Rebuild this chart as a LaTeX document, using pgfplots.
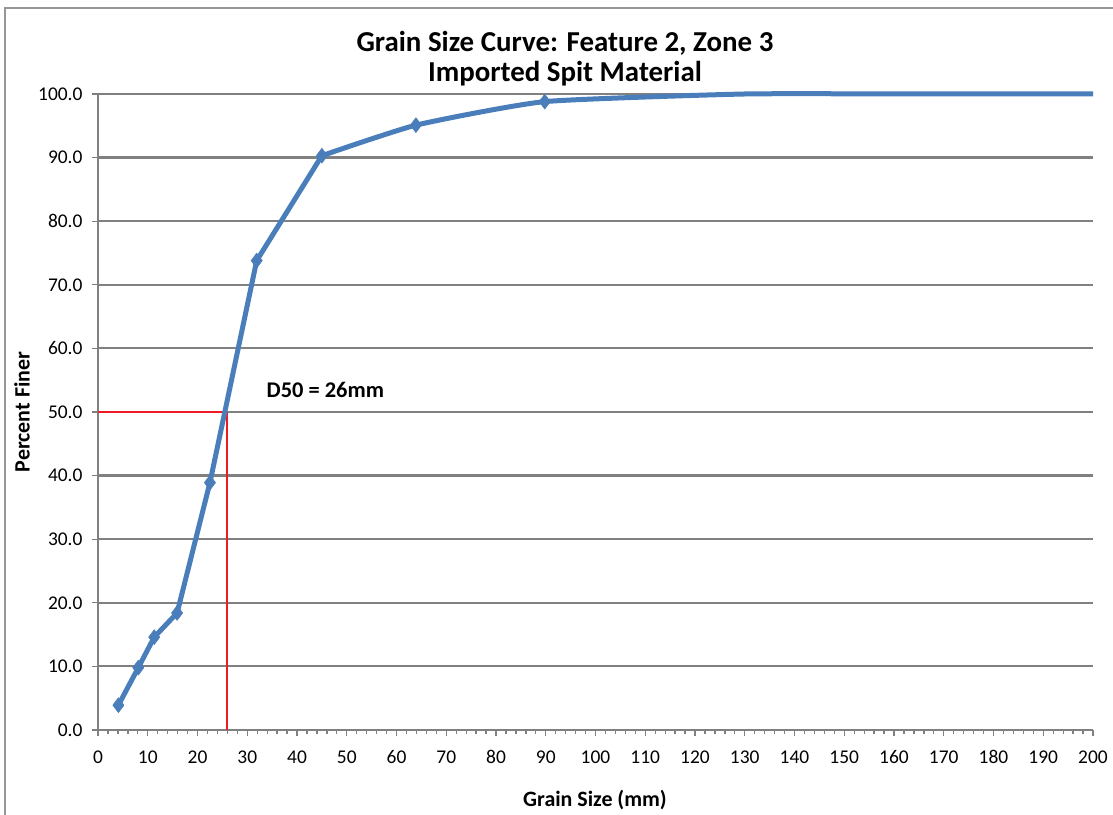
\documentclass[border=0pt]{standalone}
\usepackage{pgfplots}
\pgfplotsset{compat=1.18}
\usepackage{fontspec}
\setmainfont{Carlito}
\definecolor{lineblue}{RGB}{74,126,187}
\definecolor{gridgray}{RGB}{128,128,128}
\definecolor{framegray}{RGB}{150,150,150}
\definecolor{dred}{RGB}{237,28,36}
\begin{document}
\begin{tikzpicture}
\path[use as bounding box] (-98bp,-85bp) rectangle (1015bp,730bp);
\draw[framegray, line width=1.5bp] (-93bp,-90bp) -- (-93bp,722bp) -- (1020bp,722bp);
\begin{axis}[
  at={(0,0)}, anchor=south west,
  scale only axis, width=995bp, height=636bp,
  xmin=0, xmax=200, ymin=0, ymax=100,
  clip=false,
  axis x line=bottom, axis y line=left,
  axis line style={-, gridgray, line width=1.8bp},
  xtick={0,10,...,200}, minor x tick num=4,
  ytick={0,10,...,100},
  ymajorgrids, grid style={gridgray, line width=2.2bp},
  tick align=outside, major tick length=6bp, minor tick length=4bp,
  tick style={gridgray, line width=1.3bp},
  /pgf/number format/assume math mode=true,
  ticklabel style={font=\fontsize{19.5}{22}\selectfont},
  yticklabel style={/pgf/number format/fixed, /pgf/number format/fixed zerofill, /pgf/number format/precision=1, xshift=-6bp},
  xticklabel style={yshift=-11bp},
]
\addplot[dred, line width=2bp] coordinates {(0,50) (26,50)};
\addplot[dred, line width=2bp] coordinates {(26,50) (26,0)};
\addplot[lineblue, line width=5bp, line join=round,
  mark=diamond*, mark size=7.5bp,
  mark options={fill=lineblue, draw=lineblue, line width=0.5bp}] coordinates {
  (4.1,3.9) (8.1,9.8) (11.3,14.6) (15.9,18.4) (22.5,38.9) (31.9,73.8) (45.0,90.3)};
\addplot[lineblue, line width=5bp, smooth, tension=0.3, line join=round,
  mark=diamond*, mark size=7.5bp,
  mark options={fill=lineblue, draw=lineblue, line width=0.5bp},
  mark indices={2,3}] coordinates {
  (45.0,90.3) (63.9,95.1) (89.8,98.8) (130,100) (165,100) (200,100)};
\node[anchor=west, font=\fontsize{22.5}{26}\selectfont\bfseries] at (axis cs:33.2,53.4) {D50 = 26mm};
\end{axis}
\node[font=\fontsize{29}{33}\selectfont\bfseries] at (467bp,687bp) {Grain Size Curve: Feature 2, Zone 3};
\node[font=\fontsize{29}{33}\selectfont\bfseries] at (467bp,656bp) {Imported Spit Material};
\node[font=\fontsize{22}{26}\selectfont\bfseries] at (497bp,-70bp) {Grain Size (mm)};
\node[font=\fontsize{22}{26}\selectfont\bfseries, rotate=90] at (-76bp,318bp) {Percent Finer};
\end{tikzpicture}
\end{document}
